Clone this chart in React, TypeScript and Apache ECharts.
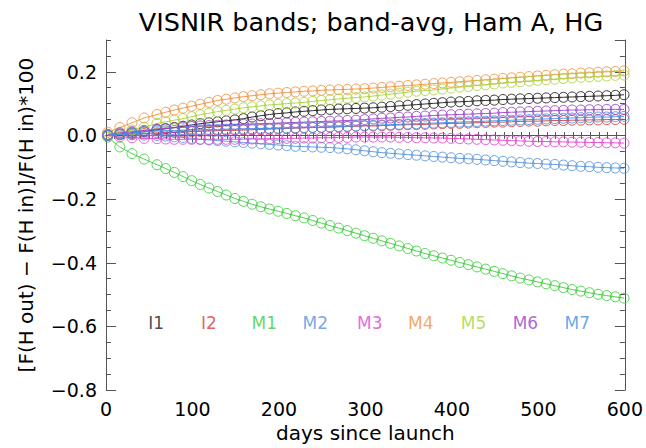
import React, { useEffect, useRef } from "react";
import * as echarts from "echarts";

const DAYS = [2,16,30,44,59,69,79,89,99,109,119,129,139,149,159,169,179,189,199,209,219,229,239,249,259,269,279,289,299,309,319,329,339,349,359,369,379,389,399,409,419,429,439,449,459,469,479,489,499,509,519,529,539,549,559,569,579,589,599];

const BANDS = ["I1", "I2", "M1", "M2", "M3", "M4", "M5", "M6", "M7"];
const COLORS = ["#1a1a1a", "#d93a3a", "#3ccc3c", "#5592dd", "#e044d2", "#f0903e", "#a8d23a", "#9a40c8", "#4090e6"];

const I1 = [0,0.004,0.008,0.012,0.018,0.021,0.025,0.029,0.033,0.037,0.04,0.043,0.046,0.049,0.053,0.058,0.062,0.066,0.069,0.071,0.074,0.076,0.078,0.08,0.082,0.083,0.084,0.085,0.086,0.087,0.089,0.091,0.093,0.095,0.097,0.099,0.101,0.103,0.105,0.106,0.107,0.109,0.11,0.111,0.113,0.114,0.115,0.116,0.117,0.118,0.119,0.12,0.121,0.122,0.123,0.124,0.125,0.126,0.128];
const I2 = [0,0.002,0.004,0.006,0.008,0.009,0.01,0.011,0.012,0.013,0.014,0.015,0.016,0.016,0.017,0.018,0.019,0.02,0.021,0.022,0.023,0.024,0.025,0.025,0.026,0.027,0.028,0.029,0.03,0.03,0.031,0.032,0.033,0.034,0.034,0.035,0.036,0.037,0.038,0.038,0.039,0.04,0.041,0.042,0.042,0.043,0.044,0.045,0.045,0.046,0.047,0.047,0.048,0.048,0.049,0.049,0.05,0.05,0.051];
const M1 = [-0.005,-0.036,-0.057,-0.074,-0.092,-0.104,-0.116,-0.129,-0.142,-0.154,-0.165,-0.176,-0.187,-0.198,-0.207,-0.216,-0.224,-0.231,-0.238,-0.245,-0.252,-0.259,-0.267,-0.275,-0.283,-0.291,-0.299,-0.307,-0.315,-0.323,-0.331,-0.339,-0.347,-0.355,-0.363,-0.371,-0.378,-0.385,-0.392,-0.399,-0.406,-0.413,-0.42,-0.427,-0.434,-0.441,-0.448,-0.454,-0.46,-0.466,-0.472,-0.478,-0.484,-0.489,-0.494,-0.499,-0.503,-0.507,-0.511];
const M2 = [0,0.003,0.002,0.001,0,-0.002,-0.004,-0.006,-0.009,-0.012,-0.014,-0.016,-0.018,-0.02,-0.022,-0.024,-0.026,-0.028,-0.03,-0.032,-0.034,-0.035,-0.036,-0.037,-0.038,-0.04,-0.042,-0.045,-0.048,-0.051,-0.054,-0.056,-0.058,-0.06,-0.062,-0.064,-0.066,-0.068,-0.07,-0.072,-0.073,-0.075,-0.077,-0.079,-0.081,-0.083,-0.085,-0.087,-0.088,-0.09,-0.091,-0.093,-0.095,-0.097,-0.098,-0.1,-0.101,-0.102,-0.103];
const M3 = [0,-0.004,-0.007,-0.009,-0.01,-0.011,-0.012,-0.012,-0.012,-0.012,-0.012,-0.012,-0.012,-0.012,-0.012,-0.011,-0.011,-0.01,-0.01,-0.009,-0.009,-0.008,-0.008,-0.007,-0.007,-0.006,-0.006,-0.005,-0.005,-0.005,-0.005,-0.005,-0.006,-0.006,-0.007,-0.007,-0.008,-0.008,-0.009,-0.01,-0.011,-0.012,-0.013,-0.014,-0.015,-0.016,-0.017,-0.018,-0.019,-0.019,-0.02,-0.02,-0.021,-0.021,-0.022,-0.022,-0.023,-0.023,-0.024];
const M4 = [0.01,0.025,0.04,0.055,0.066,0.073,0.08,0.086,0.092,0.098,0.104,0.11,0.114,0.118,0.122,0.125,0.128,0.131,0.133,0.135,0.137,0.139,0.14,0.142,0.143,0.144,0.145,0.146,0.147,0.149,0.151,0.153,0.155,0.157,0.159,0.161,0.163,0.165,0.167,0.169,0.171,0.173,0.175,0.177,0.179,0.181,0.183,0.185,0.187,0.189,0.191,0.193,0.194,0.196,0.197,0.199,0.2,0.201,0.203];
const M5 = [0.004,0.01,0.017,0.026,0.038,0.043,0.048,0.053,0.059,0.065,0.07,0.075,0.079,0.083,0.087,0.09,0.093,0.096,0.098,0.1,0.102,0.104,0.107,0.11,0.112,0.115,0.117,0.119,0.121,0.124,0.127,0.13,0.133,0.136,0.139,0.141,0.143,0.146,0.149,0.152,0.154,0.157,0.159,0.162,0.165,0.167,0.169,0.171,0.173,0.175,0.177,0.179,0.181,0.183,0.184,0.186,0.187,0.189,0.19];
const M6 = [0.003,0.008,0.012,0.016,0.02,0.022,0.024,0.026,0.028,0.03,0.031,0.032,0.033,0.034,0.035,0.036,0.037,0.038,0.039,0.04,0.041,0.042,0.043,0.044,0.045,0.046,0.047,0.048,0.05,0.052,0.054,0.055,0.057,0.058,0.06,0.061,0.063,0.064,0.065,0.066,0.067,0.068,0.069,0.07,0.072,0.073,0.074,0.075,0.076,0.077,0.078,0.079,0.08,0.08,0.081,0.081,0.082,0.082,0.082];
const M7 = [0,0.004,0.008,0.011,0.014,0.015,0.016,0.017,0.018,0.018,0.019,0.019,0.02,0.02,0.021,0.021,0.022,0.022,0.023,0.023,0.024,0.025,0.025,0.026,0.027,0.028,0.029,0.03,0.031,0.032,0.033,0.034,0.035,0.036,0.037,0.038,0.039,0.04,0.041,0.042,0.043,0.044,0.045,0.046,0.047,0.048,0.049,0.05,0.051,0.052,0.053,0.054,0.055,0.056,0.057,0.058,0.058,0.059,0.06];

const SERIES_VALUES = [I1, I2, M1, M2, M3, M4, M5, M6, M7];

// legend label anchor points (data coordinates)
const LABEL_DAYS = [58, 119, 183, 242, 305, 364, 425, 485, 545];
const LABEL_VALUE = -0.59;

const X_TICKS = { min: 0, max: 600, interval: 100 };
const Y_TICKS = { min: -0.8, max: 0.3, interval: 0.2, minorInterval: 0.05 };

const FONT = "DejaVu Sans";
const AXIS_COLOR = "#555";

export default function App() {
  const ref = useRef<HTMLDivElement>(null);

  useEffect(() => {
    if (!ref.current) return;
    const chart = echarts.init(ref.current, undefined, { renderer: "svg" });

    const xBase = (position: "bottom" | "top", labels: boolean) => ({
      type: "value",
      position,
      min: X_TICKS.min,
      max: X_TICKS.max,
      interval: X_TICKS.interval,
      axisLine: { show: true, lineStyle: { color: AXIS_COLOR, width: 1 } },
      axisTick: { show: true, inside: true, length: 7, lineStyle: { color: AXIS_COLOR } },
      minorTick: { show: true, splitNumber: 10, length: 3.5, lineStyle: { color: AXIS_COLOR } },
      splitLine: { show: false },
      axisLabel: labels
        ? { show: true, fontSize: 19, color: "#000", margin: 9, fontFamily: FONT }
        : { show: false },
      ...(labels
        ? {
            name: "days since launch",
            nameLocation: "middle",
            nameGap: 32,
            nameTextStyle: { fontSize: 20, color: "#000", fontFamily: FONT },
          }
        : {}),
    });

    const yBase = (position: "left" | "right", major: boolean, labels: boolean) => ({
      type: "value",
      position,
      min: Y_TICKS.min,
      max: Y_TICKS.max,
      interval: major ? Y_TICKS.interval : Y_TICKS.minorInterval,
      axisLine: { show: major, lineStyle: { color: AXIS_COLOR, width: 1 } },
      axisTick: { show: true, inside: true, length: major ? 10 : 5, lineStyle: { color: AXIS_COLOR } },
      splitLine: { show: false },
      axisLabel: labels
        ? {
            show: true,
            fontSize: 19,
            color: "#000",
            margin: 9,
            fontFamily: FONT,
            showMaxLabel: false,
            formatter: (v: number) => (v < 0 ? "\u2212" : "") + Math.abs(v).toFixed(1),
          }
        : { show: false },
      ...(labels
        ? {
            name: "[F(H out) \u2212 F(H in)]/F(H in)*100",
            nameLocation: "middle",
            nameGap: 70,
            nameRotate: 90,
            nameTextStyle: { fontSize: 20, color: "#000", fontFamily: FONT },
          }
        : {}),
    });

    const lineSeries = BANDS.map((name, i) => ({
      name,
      type: "line",
      xAxisIndex: 0,
      yAxisIndex: 0,
      data: DAYS.map((d, k) => [d, SERIES_VALUES[i][k]]),
      symbol: "circle",
      symbolSize: 10,
      showSymbol: true,
      lineStyle: { color: COLORS[i], width: 1, opacity: 0.9 },
      itemStyle: { color: "rgba(255,255,255,0)", borderColor: COLORS[i], borderWidth: 1, opacity: 0.85 },
      emphasis: { disabled: true },
      z: 2 + i,
    }));

    const labelSeries = {
      type: "scatter",
      xAxisIndex: 0,
      yAxisIndex: 0,
      symbolSize: 1,
      itemStyle: { color: "transparent" },
      silent: true,
      z: 20,
      data: BANDS.map((name, i) => ({
        name,
        value: [LABEL_DAYS[i], LABEL_VALUE],
        label: {
          show: true,
          position: "inside",
          formatter: name,
          color: COLORS[i],
          fontSize: 17,
          fontFamily: FONT,
        },
      })),
    };

    chart.setOption({
      animation: false,
      backgroundColor: "#ffffff",
      title: {
        text: "VISNIR bands; band-avg, Ham A, HG",
        left: 366,
        textAlign: "center",
        top: 4,
        textStyle: { fontSize: 25.5, fontWeight: "normal", color: "#000", fontFamily: FONT },
      },
      grid: { left: 106, right: 20, top: 40, bottom: 56, containLabel: false },
      xAxis: [xBase("bottom", true), xBase("top", false)],
      yAxis: [
        yBase("left", true, true),
        yBase("left", false, false),
        yBase("right", true, false),
        yBase("right", false, false),
      ],
      series: [...lineSeries, labelSeries],
    });

    return () => chart.dispose();
  }, []);

  return (
    <div
      ref={ref}
      style={{ position: "fixed", left: 0, top: 0, width: 646, height: 448, background: "#fff" }}
    />
  );
}
